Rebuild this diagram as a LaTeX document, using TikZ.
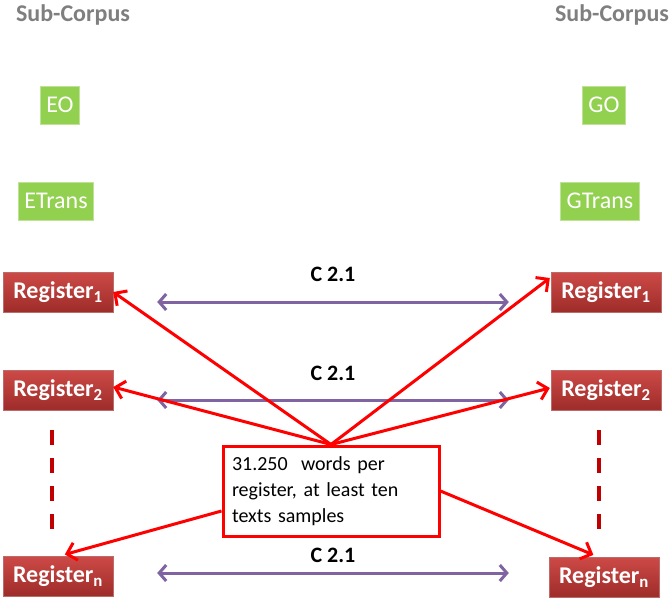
\documentclass[tikz,border=0pt]{standalone}
\usepackage{fontspec}
\setmainfont{Carlito}
\usetikzlibrary{arrows.meta,positioning,calc}
\definecolor{regred}{HTML}{CD4A47}
\definecolor{regdark}{HTML}{9E2C29}
\definecolor{corpgreen}{HTML}{92D050}
\definecolor{linkpurple}{HTML}{8064A2}
\definecolor{headgray}{HTML}{7F7F7F}
\definecolor{linkred}{HTML}{FF0000}
\definecolor{dashred}{HTML}{C00000}

\tikzset{
  headtext/.style={text=headgray, font=\bfseries\fontsize{24}{28}\selectfont},
  subbox/.style={fill=corpgreen, draw=corpgreen!60!white, line width=1pt, text=white,
    font=\fontsize{24}{28}\selectfont, minimum height=38pt, inner xsep=6pt, inner ysep=0pt},
  regbox/.style={top color=regred, bottom color=regdark, draw=regdark!70!white,
    text=white, font=\bfseries\fontsize{24}{28}\selectfont,
    minimum height=40pt, minimum width=110pt, inner sep=0pt},
  pairlink/.style={linkpurple, line width=3pt,
    {Straight Barb[length=7pt,width=16pt]}-{Straight Barb[length=7pt,width=16pt]}},
  pairlabel/.style={font=\bfseries\fontsize{22}{26}\selectfont},
  reglink/.style={linkred, line width=3pt, -{Straight Barb[length=9pt,width=18pt]}},
  regdash/.style={dashred, line width=4pt, dash pattern=on 15pt off 13pt},
}

\begin{document}
\begin{tikzpicture}[x=1pt,y=-1pt]
  \useasboundingbox (0,0) rectangle (671,597);

  \node[headtext] (hl) at (73,15) {Sub-Corpus};
  \node[headtext] (hr) at (612,15) {Sub-Corpus};

  \node[subbox] (eo) at (60,105) {EO};
  \node[subbox] (go) at (604,105) {GO};
  \node[subbox] (etrans) at (56,201) {ETrans};
  \node[subbox] (gtrans) at (600,201) {GTrans};

  \node[regbox] (lr1) at (58,292) {Register\textsubscript{1}};
  \node[regbox] (lr2) at (58,390) {Register\textsubscript{2}};
  \node[regbox] (lrn) at (58,576) {Register\textsubscript{n}};
  \node[regbox] (rr1) at (606,292) {Register\textsubscript{1}};
  \node[regbox] (rr2) at (606,390) {Register\textsubscript{2}};
  \node[regbox] (rrn) at (604,577) {Register\textsubscript{n}};

  % pairs across the two sub-corpora
  \draw[pairlink, shorten <=44pt, shorten >=42pt] ([yshift=-10pt]lr1.east) -- ([yshift=-10pt]rr1.west);
  \draw[pairlink, shorten <=44pt, shorten >=42pt] ([yshift=-10pt]lr2.east) -- ([yshift=-10pt]rr2.west);
  \draw[pairlink, shorten <=44pt, shorten >=40pt] ([yshift=3pt]lrn.east) -- ([yshift=4pt]rrn.west);
  \node[pairlabel] (c1) at (333,274) {C 2.1};
  \node[pairlabel] (c2) at (333,373) {C 2.1};
  \node[pairlabel] (cn) at (333,555) {C 2.1};

  \draw[regdash, shorten <=20pt, shorten >=27pt] ([xshift=-6pt]lr2.south) -- ([xshift=-6pt]lrn.north);
  \draw[regdash, shorten <=20pt, shorten >=28pt] ([xshift=-7pt]rr2.south) -- ([xshift=-5pt]rrn.north);

  \node[draw=linkred, line width=3pt, fill=white, align=left, text width=198pt,
    minimum height=90pt, inner xsep=9pt, font=\fontsize{20}{26}\selectfont]
    (info) at (331,491) {31.250~ words per\\register, at least ten\\texts samples};

  \draw[reglink] (info.north) -- (lr1.east);
  \draw[reglink] (info.north) -- ([yshift=3pt]lr2.east);
  \draw[reglink] (info.north) -- ([yshift=14pt,xshift=-1pt]rr1.west);
  \draw[reglink] (info.north) -- ([yshift=2pt,xshift=-1pt]rr2.west);
  \draw[reglink, shorten >=5pt] ([yshift=-20pt]info.west) -- ([xshift=2pt]lrn.north);
  \draw[reglink, shorten >=5pt] (info.east) -- ([xshift=-6pt]rrn.north);
\end{tikzpicture}
\end{document}
